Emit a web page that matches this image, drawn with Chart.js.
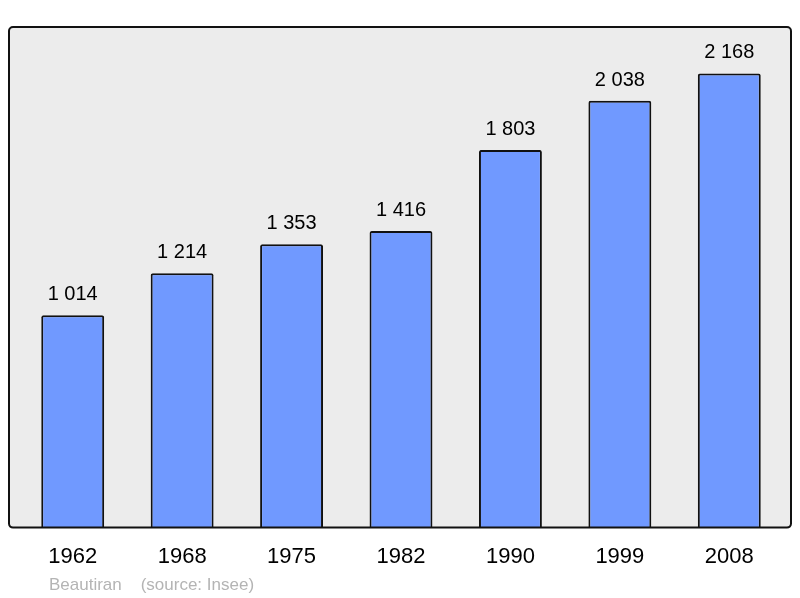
<!DOCTYPE html>
<html>
<head>
<meta charset="utf-8">
<script src="https://cdn.jsdelivr.net/npm/chart.js@4/dist/chart.umd.min.js"></script>
<style>
  html, body { margin: 0; padding: 0; background: #fff; }
  #wrap { width: 800px; height: 598px; position: relative; }
</style>
</head>
<body>
<div id="wrap"><canvas id="popChart"></canvas></div>
<script>
const years = ['1962', '1968', '1975', '1982', '1990', '1999', '2008'];
const population = [1014, 1214, 1353, 1416, 1803, 2038, 2168];
const footerText = 'Beautiran    (source: Insee)';

const fontFamily = '"Liberation Sans", Arial, sans-serif';

// grey frame behind the bars, plus value labels and footer
const framePlugin = {
    id: 'frame',
    beforeDatasetsDraw(chart) {
        const c = chart.ctx;
        const area = chart.chartArea;
        c.save();
        c.beginPath();
        c.roundRect(9, area.top, 782, area.bottom - area.top, 4);
        c.fillStyle = '#ececec';
        c.fill();
        c.restore();
    },
    afterDatasetsDraw(chart) {
        const c = chart.ctx;
        const area = chart.chartArea;
        c.save();
        c.beginPath();
        c.roundRect(9, area.top, 782, area.bottom - area.top, 4);
        c.lineWidth = 2;
        c.strokeStyle = '#111';
        c.stroke();

        c.fillStyle = '#000';
        c.font = '20px ' + fontFamily;
        c.textAlign = 'center';
        c.textBaseline = 'alphabetic';
        chart.getDatasetMeta(0).data.forEach((bar, i) => {
            c.fillText(population[i].toLocaleString('fr-FR').replace(/\s/g, ' '), bar.x, bar.y - 15);
        });

        c.fillStyle = '#b4b4b4';
        c.font = '17px ' + fontFamily;
        c.textAlign = 'left';
        c.fillText(footerText, 49, 590);
        c.restore();
    }
};

const ctx = document.getElementById('popChart');

new Chart(ctx, {
    type: 'bar',
    data: {
        labels: years,
        datasets: [{
            data: population,
            backgroundColor: '#7099ff',
            borderColor: '#111',
            borderWidth: 2,
            borderRadius: 2,
            borderSkipped: 'bottom',
            barPercentage: 0.575,
            categoryPercentage: 1
        }]
    },
    options: {
        responsive: true,
        maintainAspectRatio: false,
        animation: false,
        layout: {
            padding: { left: 18, right: 16, top: 27, bottom: 12 }
        },
        plugins: {
            legend: { display: false },
            tooltip: { enabled: false }
        },
        scales: {
            x: {
                grid: { display: false, drawTicks: false },
                border: { display: false },
                ticks: {
                    color: '#000',
                    font: { family: fontFamily, size: 22 },
                    padding: 16,
                    maxRotation: 0
                }
            },
            y: {
                display: false,
                min: 0,
                max: 2390
            }
        }
    },
    plugins: [framePlugin]
});
</script>
</body>
</html>
